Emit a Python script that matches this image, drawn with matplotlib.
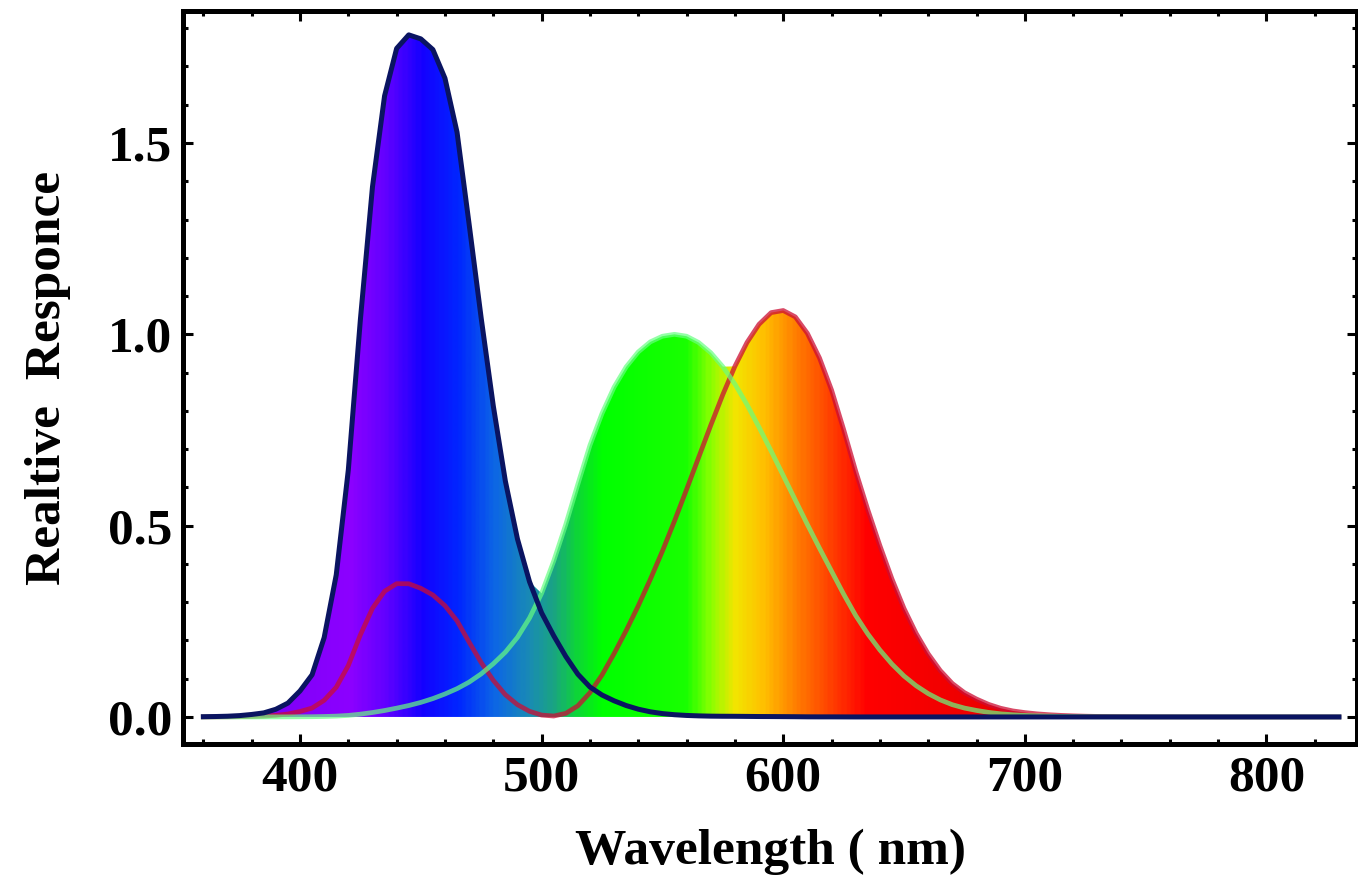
import numpy as np
import matplotlib
matplotlib.use("Agg")
import matplotlib.pyplot as plt
from matplotlib.colors import LinearSegmentedColormap
from matplotlib.patches import Polygon
from matplotlib.ticker import MultipleLocator

plt.rcParams['font.family'] = ['Liberation Serif', 'DejaVu Serif']
plt.rcParams['font.weight'] = 'bold'

# wavelength grid (nm), 5 nm steps
wavelength = np.arange(360, 835, 5)

# relative responses
x_resp = [0.00013, 0.00023, 0.00042, 0.00074, 0.00137, 0.00224, 0.00424, 0.00765,
          0.0143, 0.0232, 0.0435, 0.0776, 0.1344, 0.2148, 0.2839, 0.3285,
          0.3483, 0.3481, 0.3362, 0.3187, 0.2908, 0.2511, 0.1954, 0.1421,
          0.0956, 0.0580, 0.0320, 0.0147, 0.0049, 0.0024, 0.0093, 0.0291,
          0.0633, 0.1096, 0.1655, 0.2258, 0.2904, 0.3597, 0.4335, 0.5121,
          0.5945, 0.6784, 0.7621, 0.8425, 0.9163, 0.9786, 1.0263, 1.0567,
          1.0622, 1.0456, 1.0026, 0.9384, 0.8545, 0.7514, 0.6424, 0.5419,
          0.4479, 0.3608, 0.2835, 0.2187, 0.1649, 0.1212, 0.0874, 0.0636,
          0.0468, 0.0329, 0.0227, 0.0158, 0.0114, 0.0081, 0.0058, 0.0041,
          0.0029, 0.0020, 0.0014, 0.0010, 0.0007, 0.0005, 0.0003, 0.0002,
          0.0002, 0.0001, 0.0001, 0.0001, 0.0, 0.0, 0.0, 0.0,
          0.0, 0.0, 0.0, 0.0, 0.0, 0.0, 0.0]
y_resp = [0.0, 0.0, 0.0, 0.0, 0.0, 0.0001, 0.0001, 0.0002,
          0.0004, 0.0006, 0.0012, 0.0022, 0.0040, 0.0073, 0.0116, 0.0168,
          0.0230, 0.0298, 0.0380, 0.0480, 0.0600, 0.0739, 0.0910, 0.1126,
          0.1390, 0.1693, 0.2080, 0.2586, 0.3230, 0.4073, 0.5030, 0.6082,
          0.7100, 0.7932, 0.8620, 0.9149, 0.9540, 0.9803, 0.9950, 1.0000,
          0.9950, 0.9786, 0.9520, 0.9154, 0.8700, 0.8163, 0.7570, 0.6949,
          0.6310, 0.5668, 0.5030, 0.4412, 0.3810, 0.3210, 0.2650, 0.2170,
          0.1750, 0.1382, 0.1070, 0.0816, 0.0610, 0.0446, 0.0320, 0.0232,
          0.0170, 0.0119, 0.0082, 0.0057, 0.0041, 0.0029, 0.0021, 0.0015,
          0.0010, 0.0007, 0.0005, 0.0004, 0.0002, 0.0002, 0.0001, 0.0001,
          0.0001, 0.0, 0.0, 0.0, 0.0, 0.0, 0.0, 0.0,
          0.0, 0.0, 0.0, 0.0, 0.0, 0.0, 0.0]
z_resp = [0.0006, 0.0011, 0.0019, 0.0035, 0.0065, 0.0106, 0.0201, 0.0362,
          0.0679, 0.1102, 0.2074, 0.3713, 0.6456, 1.0391, 1.3856, 1.6230,
          1.7471, 1.7826, 1.7721, 1.7441, 1.6692, 1.5281, 1.2876, 1.0419,
          0.8130, 0.6162, 0.4652, 0.3533, 0.2720, 0.2123, 0.1582, 0.1117,
          0.0783, 0.0573, 0.0422, 0.0298, 0.0203, 0.0134, 0.0088, 0.0058,
          0.0039, 0.0028, 0.0021, 0.0018, 0.0017, 0.0014, 0.0011, 0.0010,
          0.0008, 0.0006, 0.0003, 0.0002, 0.0002, 0.0001, 0.0, 0.0,
          0.0, 0.0, 0.0, 0.0, 0.0, 0.0, 0.0, 0.0,
          0.0, 0.0, 0.0, 0.0, 0.0, 0.0, 0.0, 0.0,
          0.0, 0.0, 0.0, 0.0, 0.0, 0.0, 0.0, 0.0,
          0.0, 0.0, 0.0, 0.0, 0.0, 0.0, 0.0, 0.0,
          0.0, 0.0, 0.0, 0.0, 0.0, 0.0, 0.0]

# spectrum colours used for the fill
spec_nm = [360, 420, 435, 450, 465, 480, 495, 505, 515, 525, 560, 570, 580,
           592, 605, 620, 635, 700, 840]
spec_rgb = [(0.45, 0.0, 0.95), (0.55, 0.0, 1.0), (0.38, 0.0, 1.0), (0.08, 0.0, 1.0),
            (0.0, 0.15, 1.0), (0.05, 0.4, 0.9), (0.1, 0.55, 0.7), (0.1, 0.65, 0.5),
            (0.05, 0.85, 0.2), (0.0, 1.0, 0.0), (0.1, 1.0, 0.0), (0.55, 1.0, 0.0),
            (0.95, 0.9, 0.0), (1.0, 0.75, 0.0), (1.0, 0.5, 0.0), (1.0, 0.25, 0.0),
            (1.0, 0.0, 0.0), (0.9, 0.0, 0.0), (0.9, 0.0, 0.0)]

x_resp = np.array(x_resp)
y_resp = np.array(y_resp)
z_resp = np.array(z_resp)

fig = plt.figure(figsize=(13.58, 8.93), dpi=100)
ax = fig.add_axes([0.1348, 0.1669, 0.8645, 0.8208])

xmin, xmax = 351.6, 837.5
ymin, ymax = -0.0706, 1.845

lo, hi = spec_nm[0], spec_nm[-1]
stops = [((n - lo) / (hi - lo), c) for n, c in zip(spec_nm, spec_rgb)]
cmap = LinearSegmentedColormap.from_list('spec', stops)
grad = np.linspace(0, 1, 600).reshape(1, -1)
im = ax.imshow(grad, cmap=cmap, extent=[lo, hi, 0, 2.0], aspect='auto',
               interpolation='bilinear', zorder=1)

envelope = np.maximum(np.maximum(x_resp, y_resp), z_resp)
verts = np.column_stack([np.r_[wavelength, wavelength[::-1]],
                         np.r_[envelope, np.zeros(len(wavelength))]])
clip = Polygon(verts, closed=True, facecolor='none', edgecolor='none')
ax.add_patch(clip)
im.set_clip_path(clip)

ax.plot(wavelength, x_resp, color=(0.8, 0.05, 0.2), alpha=0.75, lw=3.4,
        solid_joinstyle='round', zorder=3)
ax.plot(wavelength, y_resp, color=(0.4, 1.0, 0.5), alpha=0.7, lw=3.4,
        solid_joinstyle='round', zorder=4)
ax.plot(wavelength, z_resp, color=(0.04, 0.08, 0.38), lw=3.6,
        solid_joinstyle='round', zorder=5)

ax.set_xlim(xmin, xmax)
ax.set_ylim(ymin, ymax)

ax.xaxis.set_major_locator(MultipleLocator(100))
ax.xaxis.set_minor_locator(MultipleLocator(20))
ax.yaxis.set_major_locator(MultipleLocator(0.5))
ax.yaxis.set_minor_locator(MultipleLocator(0.1))
ax.yaxis.set_major_formatter(plt.FormatStrFormatter('%.1f'))

ax.tick_params(which='both', direction='in', top=True, right=True, width=2.2,
               labelsize=37, colors='black')
ax.tick_params(which='major', length=7.5, pad=8)
ax.tick_params(which='minor', length=3.5)
for lab in ax.get_xticklabels() + ax.get_yticklabels():
    lab.set_fontweight('bold')

for sp in ax.spines.values():
    sp.set_linewidth(3.6)
    sp.set_color('black')

ax.set_xlabel('Wavelength ( nm)', fontsize=37, fontweight='bold', labelpad=20)
ax.set_ylabel('Realtive  Responce', fontsize=37, fontweight='bold', labelpad=26)

fig.savefig('out.png', dpi=100)
